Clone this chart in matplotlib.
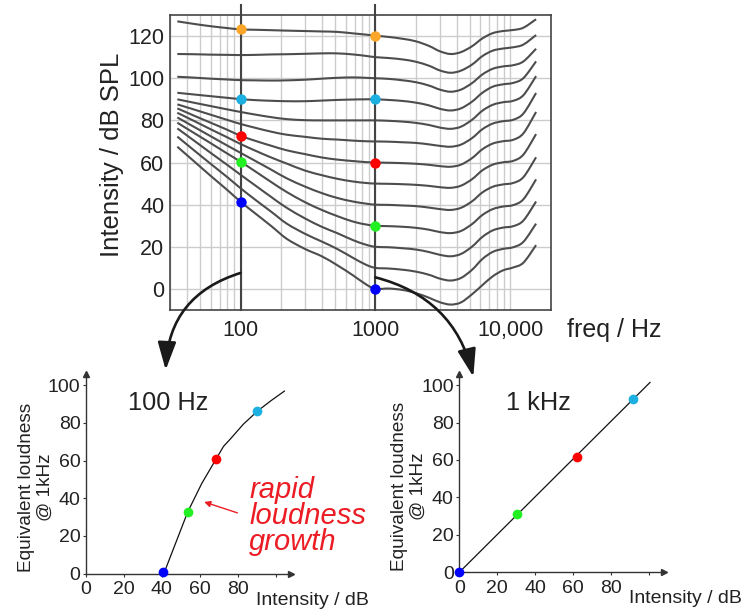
import numpy as np
import matplotlib.pyplot as plt
from matplotlib.patches import ConnectionPatch, PathPatch
from matplotlib.path import Path
from matplotlib.ticker import FixedLocator, LogLocator, NullFormatter

plt.rcParams['font.family'] = ['Liberation Sans', 'DejaVu Sans']

# 1. Equal-loudness contours (dB SPL)
freqs = [34, 45, 60, 80, 100, 130, 170, 220, 300, 400, 520, 680, 850, 1000,
         1250, 1600, 2000, 2500, 3000, 3600, 4300, 5200, 6200, 7400, 8800, 10500, 12500, 15500]

phon_120 = [127.0, 125.8, 124.7, 123.8, 123.2, 123.0, 122.8, 122.6, 122.4, 122.2, 122.0, 121.3, 120.7, 120.2,
            119.6, 118.7, 117.5, 115.3, 112.8, 111.5, 112.4, 115.2, 118.9, 121.4, 122.4, 122.9, 124.0, 128.0]
phon_110 = [111.5, 111.4, 111.2, 111.1, 111.0, 111.1, 111.3, 111.4, 111.6, 111.8, 111.8, 111.3, 110.6, 110.0,
            109.6, 108.9, 107.8, 105.9, 103.7, 102.6, 103.6, 106.5, 110.5, 113.1, 114.1, 114.7, 116.0, 120.5]
phon_100 = [100.7, 100.3, 99.8, 99.4, 99.1, 99.0, 98.9, 99.0, 99.3, 99.8, 100.2, 100.4, 100.2, 100.0,
            99.7, 99.0, 98.1, 96.5, 94.6, 93.6, 94.6, 97.7, 101.8, 104.5, 105.6, 106.2, 108.0, 114.0]
phon_90 = [93.1, 92.3, 91.5, 90.7, 90.1, 89.6, 89.3, 89.1, 89.1, 89.4, 89.7, 89.9, 90.0, 90.0,
           89.7, 89.2, 88.4, 87.1, 85.5, 84.7, 85.7, 88.9, 93.1, 96.0, 97.1, 97.8, 100.1, 108.0]
phon_80 = [90.0, 88.4, 86.8, 85.2, 84.0, 82.7, 81.5, 80.6, 80.1, 80.0, 80.0, 80.0, 80.0, 80.0,
           79.8, 79.4, 78.8, 77.8, 76.6, 76.0, 77.0, 80.3, 84.6, 87.4, 88.6, 89.3, 92.0, 101.0]
phon_70 = [87.6, 85.2, 82.7, 80.2, 78.3, 76.4, 74.6, 73.2, 72.2, 71.3, 70.9, 70.4, 70.1, 70.0,
           69.9, 69.6, 69.3, 68.6, 67.9, 67.5, 68.5, 71.6, 75.8, 78.5, 79.6, 80.3, 83.3, 93.0]
phon_60 = [85.7, 82.3, 78.9, 75.5, 72.7, 70.2, 67.9, 65.8, 64.0, 62.4, 61.4, 60.7, 60.2, 60.0,
           59.9, 59.7, 59.4, 58.9, 58.3, 58.0, 59.0, 62.1, 66.3, 69.0, 70.1, 70.8, 73.9, 84.0]
phon_50 = [83.6, 79.8, 75.8, 71.9, 68.8, 65.5, 62.3, 59.5, 56.2, 54.0, 52.3, 51.0, 50.3, 50.0,
           49.9, 49.7, 49.4, 48.9, 48.3, 48.0, 49.0, 52.1, 56.3, 59.0, 60.1, 60.8, 63.8, 73.5]
phon_40 = [81.4, 77.0, 72.5, 68.0, 64.6, 60.6, 56.5, 52.5, 48.6, 45.5, 43.2, 41.5, 40.5, 40.0,
           39.9, 39.6, 39.3, 38.6, 37.9, 37.5, 38.5, 41.6, 45.8, 48.5, 49.6, 50.3, 53.1, 62.5]
phon_30 = [78.9, 74.1, 69.2, 64.2, 60.4, 55.6, 50.6, 46.0, 41.2, 37.5, 34.6, 32.0, 30.6, 30.0,
           29.8, 29.5, 29.0, 28.1, 27.0, 26.5, 27.5, 30.8, 35.1, 37.9, 39.1, 39.8, 42.6, 52.0]
phon_20 = [76.2, 70.5, 64.6, 58.8, 54.2, 48.9, 43.5, 38.5, 33.5, 29.5, 26.5, 23.2, 21.0, 20.0,
           19.8, 19.3, 18.7, 17.5, 16.2, 15.5, 16.6, 20.1, 24.7, 27.8, 29.1, 29.8, 32.5, 41.5]
phon_10 = [72.3, 65.9, 59.4, 53.0, 47.8, 42.1, 36.5, 31.0, 26.2, 22.5, 19.0, 14.8, 11.5, 10.0,
           9.7, 9.1, 8.2, 6.7, 4.9, 4.0, 5.2, 9.1, 14.2, 17.6, 19.0, 19.8, 22.4, 31.0]
phon_0 = [67.5, 60.7, 53.7, 46.9, 41.4, 35.6, 29.7, 23.8, 19.0, 15.5, 11.3, 6.5, 2.2, 0.0,
          0.2, -0.5, -2.0, -4.2, -6.3, -7.4, -6.4, -2.5, 1.8, 6.0, 8.8, 10.2, 12.5, 20.8]

contours = [phon_120, phon_110, phon_100, phon_90, phon_80, phon_70, phon_60,
            phon_50, phon_40, phon_30, phon_20, phon_10, phon_0]

# marked frequencies and the levels picked on them
marker_freqs = [100, 1000]
dots_100hz = [123.2, 90.1, 72.7, 60.4, 41.4]
dots_1khz = [120.0, 90.0, 60.0, 30.0, 0.0]
dot_colors = ['#fba629', '#1cb0e0', '#ff0000', '#22f022', '#0000ff']

# loudness growth, 100 Hz
lg100_x = [41.0, 53.6, 61.0, 68.7, 72.5, 76.0, 83.0, 90.4, 97.5, 104.6]
lg100_y = [0.0, 32.7, 47.8, 61.0, 67.5, 71.3, 79.3, 86.2, 91.7, 96.8]
pts100_x = [40.6, 53.6, 68.7, 90.4]
pts100_y = [0.9, 32.7, 61.0, 86.2]

# loudness growth, 1 kHz
lg1k_x = [0.0, 100.4]
lg1k_y = [0.0, 101.4]
pts1k_x = [0.0, 30.4, 61.8, 91.4]
pts1k_y = [0.0, 31.0, 61.7, 92.4]
pts_colors = ['#0000ff', '#22f022', '#ff0000', '#1cb0e0']

bottom_ticks = [0, 20, 40, 60, 80, 100]
bottom_labels = ['0', '20', '40', '60', '80', '']


def smooth_contour(ax, xs, ys, **kw):
    # draw a smooth curve through the read points (Catmull-Rom as cubic Bezier, in log-f space)
    pts = np.column_stack([np.log10(xs), np.asarray(ys, float)])
    n = len(pts)
    verts, codes = [pts[0]], [Path.MOVETO]
    for i in range(n - 1):
        p0, p1 = pts[max(i - 1, 0)], pts[i]
        p2, p3 = pts[i + 1], pts[min(i + 2, n - 1)]
        verts += [p1 + (p2 - p0) / 6, p2 - (p3 - p1) / 6, p2]
        codes += [Path.CURVE4] * 3
    verts = np.array(verts)
    verts[:, 0] = 10 ** verts[:, 0]
    ax.add_patch(PathPatch(Path(verts, codes), fill=False, **kw))


# 2. Figure
fig = plt.figure(figsize=(7.41, 6.11), dpi=100)
grid_c = '#cccccc'
frame_c = '#444444'
text_c = '#222222'

ax = fig.add_axes([0.2294, 0.4926, 0.5142, 0.4828])
ax.set_xscale('log')
ax.set_xlim(30, 20000)
ax.set_ylim(-10, 130)
for lvl in contours:
    smooth_contour(ax, freqs, lvl, edgecolor='#4d4d4d', lw=1.5, zorder=3)
ax.set_yticks(range(0, 121, 20))
ax.xaxis.set_major_locator(FixedLocator([100, 1000, 10000]))
ax.set_xticklabels(['100', '1000', '10,000'])
ax.xaxis.set_minor_locator(LogLocator(base=10, subs=range(2, 10), numticks=20))
ax.xaxis.set_minor_formatter(NullFormatter())
ax.grid(True, which='both', axis='x', color=grid_c, lw=1.0, zorder=0)
ax.grid(True, which='major', axis='y', color=grid_c, lw=1.0, zorder=0)
ax.tick_params(which='both', length=0, labelsize=15.5, labelcolor=text_c)
ax.tick_params(axis='x', pad=7)
ax.tick_params(axis='y', pad=4)
for s in ax.spines.values():
    s.set_color(frame_c)
    s.set_linewidth(1.2)

for f in marker_freqs:
    ax.plot([f, f], [-10, 134.7], color=frame_c, lw=1.5, clip_on=False, zorder=4)
for lvl, c in zip(dots_100hz, dot_colors):
    ax.plot(marker_freqs[0], lvl, 'o', ms=7.5, color=c, mec='none', zorder=6, clip_on=False)
for lvl, c in zip(dots_1khz, dot_colors):
    ax.plot(marker_freqs[1], lvl, 'o', ms=7.5, color=c, mec='none', zorder=6, clip_on=False)

ax.text(-0.151, 0.525, 'Intensity / dB SPL', rotation=90, ha='center', va='center',
        fontsize=18.5, color=text_c, transform=ax.transAxes)
ax.text(1.042, -0.068, 'freq / Hz', ha='left', va='center', fontsize=18,
        color=text_c, transform=ax.transAxes)


def growth_axes(rect):
    a = fig.add_axes(rect)
    a.set_xlim(0, 108)
    a.set_ylim(0, 106)
    for side in ['top', 'right']:
        a.spines[side].set_visible(False)
    for side in ['left', 'bottom']:
        a.spines[side].set_color('#333333')
        a.spines[side].set_linewidth(1.0)
    a.set_xticks(bottom_ticks)
    a.set_xticklabels(bottom_labels)
    a.set_yticks(bottom_ticks)
    a.tick_params(labelsize=14, labelcolor=text_c, color='#333333', length=2.5)
    a.tick_params(axis='x', pad=3)
    a.tick_params(axis='y', pad=1.5)
    a.plot(1, 0, '>', ms=5, color='#333333', transform=a.transAxes, clip_on=False)
    a.plot(0, 1, '^', ms=5, color='#333333', transform=a.transAxes, clip_on=False)
    a.patch.set_alpha(0)
    a.text(89.5, -14, 'Intensity / dB', ha='left', va='center', fontsize=14, color=text_c)
    a.text(-0.245, 0.434, 'Equivalent loudness\n@ 1kHz', rotation=90, ha='center', va='center',
           fontsize=13.7, color=text_c, transform=a.transAxes, multialignment='center')
    return a


ax1 = growth_axes([0.1161, 0.0610, 0.2764, 0.3273])
ax1.plot(lg100_x, lg100_y, color='#111111', lw=0.9)
for x, y, c in zip(pts100_x, pts100_y, pts_colors):
    ax1.plot(x, y, 'o', ms=7, color=c, mec='none', clip_on=False, zorder=5)
ax1.text(22.2, 90.5, '100 Hz', ha='left', va='center', fontsize=18.3, color=text_c)
ax1.text(86, 30.6, 'rapid\nloudness\ngrowth', ha='left', va='center', fontsize=21,
         style='italic', color='#ec1c24', linespacing=0.9)
ax1.annotate('', xy=(60.9, 38.5), xytext=(81.2, 31.8),
             arrowprops=dict(arrowstyle='-|>', color='#ec1c24', lw=1.0, mutation_scale=9))

ax2 = growth_axes([0.6198, 0.0633, 0.2769, 0.3249])
ax2.plot(lg1k_x, lg1k_y, color='#111111', lw=0.9)
for x, y, c in zip(pts1k_x, pts1k_y, pts_colors):
    ax2.plot(x, y, 'o', ms=7, color=c, mec='none', clip_on=False, zorder=5)
ax2.text(24.6, 90.4, '1 kHz', ha='left', va='center', fontsize=18.3, color=text_c)

# 3. Curved arrows from the marked frequencies down to the panels
arrow_style = '-|>,head_length=0.85,head_width=0.28'
for src_x, src_y, dst_ax, dst, rad in [(100, 7.6, ax1, (42, 108), 0.35),
                                       (1000, 5.5, ax2, (7.4, 104.4), -0.3)]:
    con = ConnectionPatch(xyA=(src_x, src_y), coordsA=ax.transData,
                          xyB=dst, coordsB=dst_ax.transData,
                          arrowstyle=arrow_style, mutation_scale=20,
                          connectionstyle=f'arc3,rad={rad}', color='#1a1a1a',
                          lw=1.9, shrinkA=0, shrinkB=0, zorder=10)
    fig.add_artist(con)

fig.savefig('out.png', dpi=100)
